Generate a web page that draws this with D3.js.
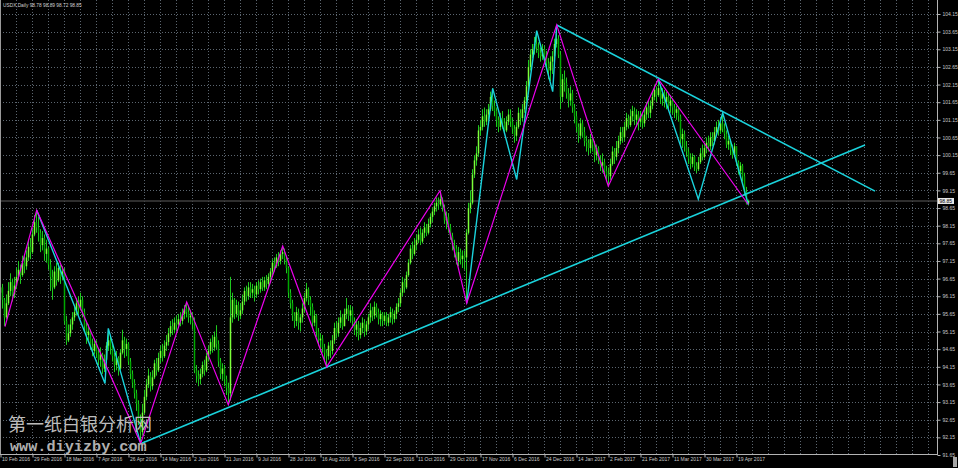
<!DOCTYPE html>
<html><head><meta charset="utf-8">
<script src="https://cdn.jsdelivr.net/npm/d3@7"></script>
<style>html,body{margin:0;padding:0;background:#000;overflow:hidden}</style>
</head><body><svg id="c" width="958" height="468"></svg>
<script>
// ---------- DATA ----------
const titleText = "USDX,Daily  98.78 98.89 98.72 98.85";
const firstOpen = 96.25;
const closes = [
96.40,96.05,95.55,95.95,96.30,96.55,96.20,96.45, 96.70,96.90,96.75,97.10,97.00,97.25,97.55,97.40,
97.90,98.25,98.10,97.95,97.60,97.80,97.35,97.50, 97.05,96.70,96.40,96.85,96.60,96.95,96.70,96.85,
95.45,94.90,95.10,95.35,95.55,95.70,95.95,95.80, 96.05,95.70,95.30,95.05,95.15,94.75,94.60,94.80,
94.55,94.35,94.50,94.10,94.35,94.75,94.90,94.70, 94.45,94.20,94.40,94.10,94.55,94.90,94.65,94.80,
94.30,93.95,93.70,93.40,93.10,92.65,92.30,92.85, 93.30,93.65,93.90,93.60,93.85,94.25,94.05,94.40,
94.60,94.45,94.75,94.85,95.10,95.30,95.20,95.40, 95.35,95.50,95.45,95.65,95.80,95.70,95.55,95.60,
95.40,94.05,93.90,93.80,93.95,94.20,94.05,94.45, 94.60,94.85,94.70,95.00,94.80,94.30,93.95,94.10,
93.80,93.55,93.40,95.55,96.05,95.65,95.90,95.60, 95.75,96.00,96.30,96.15,96.40,96.25,96.35,96.20,
96.45,96.35,96.55,96.40,96.60,96.50,96.70,96.85, 97.10,97.00,97.25,97.15,97.35,97.40,97.20,96.95,
96.25,95.95,95.60,95.45,95.70,95.40,95.55,95.80, 96.10,96.35,96.05,95.85,95.40,95.60,95.15,94.90,
94.95,94.70,94.55,94.45,94.75,94.60,94.90,95.25, 95.10,95.40,95.55,95.30,95.65,95.80,95.60,95.75,
95.45,95.20,95.35,95.05,95.25,95.40,95.15,95.35, 95.55,95.75,95.60,95.85,95.70,95.50,95.65,95.45,
95.60,95.40,95.55,95.70,95.50,95.65,95.85,95.95, 96.25,96.55,96.40,96.75,97.10,97.50,97.35,97.60,
97.75,97.90,97.70,97.95,98.10,97.95,98.20,98.40, 98.55,98.70,98.80,98.75,98.90,98.65,98.30,98.40,
98.10,97.85,97.60,97.50,97.15,97.40,97.20,97.30, 97.25,97.95,98.65,98.80,99.60,100.00,100.20,100.85,
100.95,101.25,101.10,101.30,101.45,101.80,101.55,101.40, 101.15,100.95,101.20,101.05,100.85,101.10,101.30,101.10,
100.90,100.70,100.95,101.35,101.20,101.45,101.70,102.10, 102.65,103.00,103.15,103.30,103.20,103.05,102.95,103.15,
102.95,102.75,102.55,102.80,102.95,103.30,103.45,103.00, 101.80,102.30,102.20,101.90,101.70,101.90,101.50,101.25,
100.95,100.70,101.05,100.80,100.55,100.50,100.35,100.60, 100.45,100.15,100.35,100.05,99.85,99.95,99.70,99.60,
99.55,99.90,100.25,100.10,100.35,100.55,100.80,100.65, 100.95,101.20,101.00,101.25,101.40,101.15,101.30,101.10,
101.25,101.05,101.30,101.50,101.35,101.55,101.80,102.00, 101.85,102.05,101.75,101.90,101.65,101.80,101.55,101.70,
101.50,101.35,101.45,101.25,100.60,100.75,100.40,100.25, 100.05,99.90,100.10,99.85,99.75,99.95,100.20,100.10,
100.35,100.50,100.40,100.65,100.55,100.80,100.95,100.85, 101.05,100.90,100.75,100.45,100.55,100.30,100.15,100.40,
99.95,99.70,99.85,99.55,99.10,98.78,98.85];
const highs = [
96.75,96.50,96.10,96.20,96.55,96.80,96.65,96.70, 96.95,97.15,97.05,97.30,97.35,97.45,97.75,97.80,
98.05,98.45,98.59,98.40,98.05,98.00,97.90,97.75, 97.55,97.20,96.90,97.00,97.10,97.10,97.05,97.00,
96.95,95.60,95.35,95.50,95.70,95.90,96.10,96.15, 96.25,96.15,95.80,95.40,95.35,95.20,94.95,94.95,
94.90,94.65,94.70,94.55,94.50,94.85,95.20,95.00, 94.80,94.55,94.60,94.45,94.65,95.20,95.00,94.95,
94.85,94.40,94.05,93.80,93.50,93.20,92.80,93.10, 93.50,93.80,94.10,94.00,94.05,94.35,94.40,94.55,
94.75,94.80,94.90,95.05,95.25,95.45,95.50,95.55, 95.60,95.65,95.70,95.80,95.90,95.99,95.85,95.75,
95.70,95.55,94.20,94.05,94.10,94.30,94.35,94.55, 94.75,94.95,95.05,95.15,95.33,94.90,94.40,94.25,
94.20,93.90,93.70,96.70,96.25,96.10,96.05,96.00, 95.95,96.20,96.40,96.45,96.55,96.55,96.50,96.45,
96.55,96.60,96.65,96.70,96.70,96.75,96.80,96.95, 97.20,97.25,97.35,97.40,97.45,97.57,97.50,97.30,
97.00,96.35,96.05,95.70,95.85,95.80,95.65,95.95, 96.25,96.53,96.40,96.15,95.95,95.75,95.65,95.25,
95.10,95.05,94.80,94.65,94.85,94.90,95.05,95.40, 95.45,95.55,95.75,95.65,95.80,96.10,95.90,95.90,
95.85,95.55,95.50,95.45,95.40,95.55,95.50,95.45, 95.65,95.95,95.85,96.00,95.95,95.80,95.75,95.70,
95.70,95.70,95.65,95.85,95.80,95.75,95.95,96.10, 96.35,96.70,96.65,96.85,97.20,97.60,97.70,97.80,
97.90,98.05,98.10,98.05,98.25,98.20,98.35,98.50, 98.65,98.80,98.95,98.95,99.13,98.95,98.75,98.55,
98.50,98.20,97.95,97.75,97.60,97.55,97.50,97.45, 97.45,98.05,98.80,99.15,99.75,100.15,100.40,101.00,
101.15,101.45,101.50,101.45,101.60,101.95,102.05,101.70, 101.50,101.25,101.35,101.40,101.20,101.25,101.45,101.45,
101.20,101.00,101.10,101.50,101.45,101.60,101.80,102.25, 102.85,103.15,103.30,103.50,103.67,103.35,103.20,103.30,
103.25,103.10,102.90,102.95,103.10,103.45,103.84,103.55, 103.10,102.45,102.55,102.35,102.05,102.10,102.00,101.60,
101.40,101.05,101.20,101.15,100.95,100.70,100.60,100.75, 100.65,100.55,100.45,100.40,100.15,100.20,100.05,99.85,
99.80,100.05,100.40,100.35,100.55,100.70,100.95,100.95, 101.10,101.35,101.30,101.45,101.55,101.50,101.45,101.40,
101.40,101.35,101.45,101.65,101.70,101.70,101.95,102.15, 102.10,102.31,102.15,102.05,102.00,101.95,101.90,101.85,
101.75,101.60,101.55,101.50,101.30,100.90,100.85,100.55, 100.35,100.20,100.20,100.15,99.95,100.10,100.35,100.45,
100.50,100.65,100.70,100.80,100.80,100.95,101.10,101.15, 101.20,101.34,101.05,100.85,100.70,100.60,100.45,100.50,
100.20,100.00,99.95,99.90,99.65,99.25,98.89];
const lows = [
96.05,95.80,95.31,95.50,95.90,96.15,96.00,96.10, 96.35,96.60,96.50,96.70,96.80,96.90,97.15,97.20,
97.35,97.85,97.95,97.70,97.40,97.45,97.15,97.10, 96.90,96.30,96.05,96.35,96.45,96.55,96.50,96.60,
95.35,94.77,94.85,95.00,95.20,95.45,95.60,95.65, 95.75,95.55,95.15,94.80,94.90,94.65,94.45,94.50,
94.40,94.20,94.15,93.95,94.00,94.25,94.60,94.50, 94.30,94.00,94.05,93.90,94.05,94.50,94.40,94.45,
94.20,93.80,93.55,93.25,92.90,92.50,91.99,92.20, 92.80,93.20,93.55,93.45,93.50,93.80,93.90,94.00,
94.25,94.30,94.40,94.60,94.75,95.00,95.05,95.10, 95.15,95.25,95.30,95.35,95.50,95.55,95.40,95.35,
95.20,93.97,93.70,93.60,93.65,93.85,93.90,94.00, 94.30,94.50,94.55,94.60,94.65,94.15,93.80,93.75,
93.60,93.35,93.07,93.20,95.40,95.50,95.55,95.45, 95.50,95.65,95.90,96.00,96.05,96.10,96.10,96.00,
96.10,96.20,96.25,96.30,96.30,96.35,96.40,96.55, 96.75,96.85,96.95,97.00,97.05,97.20,97.05,96.80,
96.10,95.80,95.45,95.25,95.30,95.20,95.15,95.40, 95.70,96.00,95.90,95.60,95.25,95.30,95.00,94.75,
94.65,94.55,94.30,94.14,94.35,94.40,94.50,94.80, 94.95,95.00,95.25,95.20,95.30,95.50,95.45,95.40,
95.30,95.05,95.00,94.90,94.95,95.10,95.00,95.05, 95.20,95.40,95.45,95.50,95.55,95.35,95.30,95.30,
95.35,95.30,95.30,95.40,95.35,95.40,95.50,95.70, 95.85,96.15,96.25,96.35,96.70,97.05,97.20,97.30,
97.45,97.65,97.60,97.65,97.80,97.85,97.90,98.10, 98.25,98.45,98.55,98.60,98.70,98.55,98.20,98.05,
97.95,97.75,97.45,97.25,97.05,97.00,97.05,96.95, 96.90,95.96,97.90,98.50,98.75,99.50,99.85,100.10,
100.70,100.85,100.95,101.00,101.15,101.40,101.40,101.25, 100.95,100.80,100.85,100.90,100.75,100.80,101.00,100.95,
100.75,100.50,100.55,100.90,101.00,101.10,101.35,101.60, 102.00,102.55,102.90,103.00,103.05,102.90,102.80,102.85,
102.80,102.60,102.30,102.25,102.45,102.85,103.20,102.90, 101.45,101.65,101.95,101.75,101.50,101.55,101.35,101.05,
100.80,100.50,100.60,100.65,100.40,100.25,100.15,100.20, 100.25,99.95,100.00,99.90,99.70,99.65,99.55,99.45,
99.27,99.45,99.85,99.90,100.00,100.20,100.45,100.50, 100.55,100.85,100.90,100.95,101.10,101.00,100.95,100.85,
100.95,100.90,100.95,101.15,101.20,101.20,101.45,101.70, 101.65,101.80,101.60,101.55,101.50,101.45,101.40,101.35,
101.30,101.20,101.15,101.10,100.45,100.35,100.25,100.10, 99.90,99.75,99.80,99.70,99.64,99.70,99.90,100.00,
100.05,100.20,100.25,100.30,100.40,100.45,100.70,100.70, 100.75,100.80,100.60,100.35,100.30,100.15,100.05,100.10,
99.85,99.60,99.55,99.40,99.00,98.75,98.72];

const priceTicks = [91.65,92.15,92.65,93.15,93.65,94.15,94.65,95.15,95.65,96.15,96.65,97.15,97.65,
  98.15,98.65,99.15,99.65,100.15,100.65,101.15,101.65,102.15,102.65,103.15,103.65,104.15];
const dateLabels = ["10 Feb 2016","29 Feb 2016","18 Mar 2016","7 Apr 2016","26 Apr 2016","14 May 2016",
  "2 Jun 2016","21 Jun 2016","9 Jul 2016","28 Jul 2016","16 Aug 2016","3 Sep 2016","22 Sep 2016",
  "11 Oct 2016","29 Oct 2016","17 Nov 2016","6 Dec 2016","24 Dec 2016","14 Jan 2017","2 Feb 2017",
  "21 Feb 2017","11 Mar 2017","30 Mar 2017","19 Apr 2017"];
const dateLabelBars = [0,16,32,48,64,80,96,112,128,144,160,176,192,208,224,240,256,272,288,304,320,336,352,368];

// zigzag (magenta) pivots: bar index, price
const magentaBars   = [2.25, 18.1, 70.1, 93.1, 113.9, 141.1, 163.1, 219.75, 233.1, 278.1, 303.9, 328.9, 373.9];
const magentaPrices = [95.29, 98.59, 91.98, 95.99, 93.07, 97.57, 94.15, 99.14, 95.95, 103.84, 99.27, 102.30, 98.75];
// cyan pattern lines (segments visible outside the magenta path)
const cyanPaths = [
  {bars:[18.1, 52.25, 53.9, 70.1], prices:[98.59, 93.68, 95.24, 91.98]},
  {bars:[233.1, 246.1, 258.1, 268.1, 276.1, 278.1], prices:[95.95, 102.04, 99.46, 103.68, 101.95, 103.84]},
  {bars:[328.9, 348.9, 361.1, 373.9], prices:[102.30, 98.90, 101.35, 98.75]}
];
// cyan trend lines
const trendBars   = [[70.6, 432.25], [278.1, 437.25]];
const trendPrices = [[91.98, 100.44], [103.84, 99.13]];
const lastPrice = 98.85;

// ---------- CHART ----------
const svg = d3.select("#c");
const W = 958, H = 468, plotR = 937, plotB = 455;
svg.append("rect").attr("width", W).attr("height", H).attr("fill", "#000");

const x = d3.scaleLinear().domain([0, 468]).range([0.5, 936.5]);
const y = d3.scaleLinear().domain([91.65, 104.15]).range([455, 14]);

svg.append("defs").append("clipPath").attr("id", "clip")
  .append("rect").attr("x", 0).attr("y", 0).attr("width", plotR).attr("height", plotB);

const gridCol = "#5c6670";
const g = svg.append("g").attr("clip-path", "url(#clip)");
// vertical grid
g.selectAll("line.vg").data(d3.range(1, 59)).enter().append("line")
  .attr("x1", d => x(d * 8)).attr("x2", d => x(d * 8))
  .attr("y1", 0).attr("y2", plotB)
  .attr("stroke", gridCol).attr("stroke-width", 1).attr("stroke-dasharray", "1,2");
// horizontal grid
g.selectAll("line.hg").data(priceTicks).enter().append("line")
  .attr("x1", 0).attr("x2", plotR)
  .attr("y1", d => Math.round(y(d)) + 0.5).attr("y2", d => Math.round(y(d)) + 0.5)
  .attr("stroke", gridCol).attr("stroke-width", 1).attr("stroke-dasharray", "1,2");

// last price line
g.append("line").attr("x1", 0).attr("x2", plotR)
  .attr("y1", y(lastPrice)).attr("y2", y(lastPrice))
  .attr("stroke", "#3e3e3e").attr("stroke-width", 1.5);

// candles
const bars = closes.map((c, i) => ({
  i, c, h: highs[i], l: lows[i], o: i === 0 ? firstOpen : closes[i - 1]
}));
const bullCol = "#7cff3a", bearCol = "#00a800", wickCol = "#1ec81e";
const cg = g.append("g");
cg.selectAll("line.w").data(bars).enter().append("line")
  .attr("x1", d => x(d.i)).attr("x2", d => x(d.i))
  .attr("y1", d => y(Math.max(d.h, d.o, d.c))).attr("y2", d => y(Math.min(d.l, d.o, d.c)))
  .attr("stroke", wickCol).attr("stroke-width", 1);
cg.selectAll("rect.b").data(bars).enter().append("rect")
  .attr("x", d => x(d.i) - 0.75).attr("width", 1.5)
  .attr("y", d => y(Math.max(d.o, d.c)))
  .attr("height", d => Math.max(1, y(Math.min(d.o, d.c)) - y(Math.max(d.o, d.c))))
  .attr("fill", d => d.c >= d.o ? bullCol : bearCol);

// cyan lines
const cyan = "#1ad3dc";
const lineGen = d3.line().x(d => x(d[0])).y(d => y(d[1]));
trendBars.forEach((b, k) => {
  g.append("path").attr("d", lineGen(b.map((v, j) => [v, trendPrices[k][j]])))
    .attr("fill", "none").attr("stroke", cyan).attr("stroke-width", 1.6);
});
cyanPaths.forEach(p => {
  g.append("path").attr("d", lineGen(p.bars.map((v, j) => [v, p.prices[j]])))
    .attr("fill", "none").attr("stroke", cyan).attr("stroke-width", 1.4);
});
// magenta zigzag
g.append("path").attr("d", lineGen(magentaBars.map((v, j) => [v, magentaPrices[j]])))
  .attr("fill", "none").attr("stroke", "#ee00ee").attr("stroke-width", 1.2);

// frame
svg.append("line").attr("x1", 0.5).attr("x2", 0.5).attr("y1", 0).attr("y2", plotB).attr("stroke", "#9a9a9a");
svg.append("line").attr("x1", 0).attr("x2", plotR + 0.5).attr("y1", plotB - 0.5).attr("y2", plotB - 0.5).attr("stroke", "#b4b4b4");
svg.append("line").attr("x1", plotR + 0.5).attr("x2", plotR + 0.5).attr("y1", 0).attr("y2", plotB).attr("stroke", "#b4b4b4");

const txtCol = "#c8c8c8";
// right axis
const ay = svg.append("g").attr("transform", `translate(${plotR + 0.5},0)`)
  .call(d3.axisRight(y).tickValues(priceTicks).tickSize(3).tickPadding(2).tickFormat(d3.format(".2f")));
ay.select(".domain").remove();
ay.selectAll("line").attr("stroke", "#b4b4b4");
ay.selectAll("text").attr("fill", txtCol).attr("font-family", "Liberation Sans, Arial, sans-serif").attr("font-size", 5);

// bottom axis
const xb = d3.scaleLinear().domain([0, 468]).range([0, 936]);
const ax = svg.append("g").attr("transform", `translate(0,${plotB - 0.5})`)
  .call(d3.axisBottom(xb).tickValues(dateLabelBars).tickSize(3).tickFormat((d, i) => dateLabels[i]));
ax.select(".domain").remove();
ax.selectAll("line").attr("stroke", "#b4b4b4").attr("transform", "translate(0.5,0)");
ax.selectAll("text").attr("fill", txtCol).attr("font-family", "Liberation Sans, Arial, sans-serif")
  .attr("font-size", 5).attr("text-anchor", "start").attr("dx", 1.5).attr("dy", 3.5).attr("y", 3);

// last price label
const ly = y(lastPrice);
svg.append("rect").attr("x", plotR + 1).attr("y", ly - 3).attr("width", 16).attr("height", 6).attr("fill", "#e8e8e8");
svg.append("text").attr("x", plotR + 2.5).attr("y", ly + 1.8).text(d3.format(".2f")(lastPrice))
  .attr("fill", "#000").attr("font-family", "Liberation Sans, Arial, sans-serif").attr("font-size", 5);

// title
svg.append("text").attr("x", 3).attr("y", 7).text(titleText)
  .attr("fill", "#d0d0d0").attr("font-family", "Liberation Sans, Arial, sans-serif").attr("font-size", 4.8);

// watermark
svg.append("text").attr("x", 8).attr("y", 431).text("第一纸白银分析网")
  .attr("fill", "#bcbcbc").attr("font-family", "Noto Sans CJK SC").attr("font-size", 18);
svg.append("text").attr("x", 10).attr("y", 451).text("www.diyizby.com")
  .attr("fill", "#b0b0b0").attr("font-family", "Liberation Mono, DejaVu Sans Mono, monospace")
  .attr("font-weight", "bold").attr("font-size", 15.2);

// scroll marker bottom right
svg.append("rect").attr("x", 953).attr("y", 457).attr("width", 4).attr("height", 10).attr("fill", "#a8a8a8");
</script></body></html>
